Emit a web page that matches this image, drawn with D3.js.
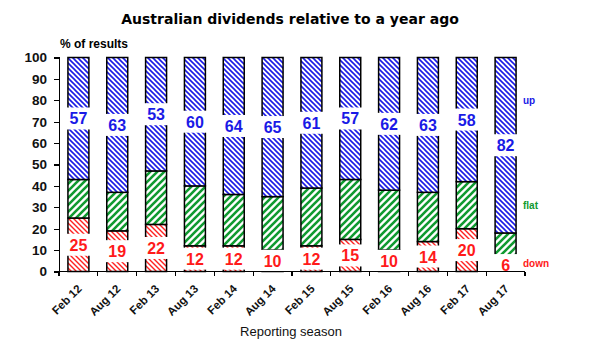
<!DOCTYPE html>
<meta charset="utf-8">
<style>
body { margin: 0; background: #fff; }
svg { font-family: "Liberation Sans", Arial, sans-serif; }
.axis path, .axis line { stroke: #000; stroke-width: 1.2px; shape-rendering: crispEdges; }
.axis text { font-weight: bold; fill: #111; }
</style>
<body>
<div id="chart"></div>
<script src="https://cdn.jsdelivr.net/npm/d3@7"></script>
<script>
var seasons = ["Feb 12","Aug 12","Feb 13","Aug 13","Feb 14","Aug 14","Feb 15","Aug 15","Feb 16","Aug 16","Feb 17","Aug 17"];
var down = [25,19,22,12,12,10,12,15,10,14,20,6];
var up = [57,63,53,60,64,65,61,57,62,63,58,82];
var flat = [18,18,25,28,24,25,27,28,28,23,22,12];
var yTicks = [0,10,20,30,40,50,60,70,80,90,100];

var width = 596, height = 362;
var svg = d3.select("#chart").append("svg")
  .attr("width", width).attr("height", height);

var x = d3.scaleBand().domain(seasons).range([59, 525]).paddingInner(0.46).paddingOuter(0.23);
var y = d3.scaleLinear().domain([0, 100]).range([271.5, 57.5]);

// hatch patterns
var defs = svg.append("defs");
function hatch(id, color, size, sw, dir) {
  var p = defs.append("pattern").attr("id", id)
    .attr("patternUnits", "userSpaceOnUse")
    .attr("width", size).attr("height", size);
  p.append("rect").attr("width", size).attr("height", size).attr("fill", "#fff");
  var d = dir > 0
    ? "M0," + size + "L" + size + ",0M-1,1L1,-1M" + (size - 1) + "," + (size + 1) + "L" + (size + 1) + "," + (size - 1)
    : "M0,0L" + size + "," + size + "M-1," + (size - 1) + "L1," + (size + 1) + "M" + (size - 1) + ",-1L" + (size + 1) + ",1";
  p.append("path").attr("d", d).attr("stroke", color).attr("stroke-width", sw);
}
hatch("hUp", "#1a1ae6", 5, 1.6, -1);
hatch("hDown", "#ff2020", 5, 1.4, -1);
hatch("hFlat", "#109a30", 7, 2.6, 1);

var rows = seasons.map(function(s, i) {
  return { season: s, down: down[i], flat: flat[i], up: up[i] };
});
var keys = ["down", "flat", "up"];
var fills = { down: "url(#hDown)", flat: "url(#hFlat)", up: "url(#hUp)" };
var layers = d3.stack().keys(keys)(rows);

// title
svg.append("text").attr("x", 290).attr("y", 24)
  .attr("text-anchor", "middle")
  .style("font-family", "'DejaVu Sans', Verdana, sans-serif")
  .style("font-weight", "bold").style("font-size", "14px")
  .text("Australian  dividends relative to a year ago");

svg.append("text").attr("x", 60).attr("y", 48)
  .style("font-weight", "bold").style("font-size", "12px")
  .text("% of results");

// bars
var g = svg.append("g");
layers.forEach(function(layer) {
  g.selectAll(".seg-" + layer.key).data(layer).enter().append("rect")
    .attr("x", function(d) { return x(d.data.season); })
    .attr("y", function(d) { return y(d[1]); })
    .attr("width", x.bandwidth())
    .attr("height", function(d) { return y(d[0]) - y(d[1]); })
    .attr("fill", fills[layer.key])
    .attr("stroke", "#000").attr("stroke-width", 1.5);
});

// value labels with white boxes
var labelKeys = { down: "#ff1a1a", up: "#1a1ae6" };
layers.filter(function(l) { return labelKeys[l.key]; }).forEach(function(layer) {
  var lg = svg.selectAll(".lab-" + layer.key).data(layer).enter().append("g");
  lg.append("rect")
    .attr("x", function(d) { return x(d.data.season) - 2; })
    .attr("y", function(d) { return y((d[0] + d[1]) / 2) - 11; })
    .attr("width", x.bandwidth() + 4)
    .attr("height", 22)
    .attr("fill", "#fff");
  lg.append("text")
    .attr("x", function(d) { return x(d.data.season) + x.bandwidth() / 2; })
    .attr("y", function(d) { return y((d[0] + d[1]) / 2) + 6; })
    .attr("text-anchor", "middle")
    .style("font-size", "16px").style("font-weight", "bold")
    .attr("fill", labelKeys[layer.key])
    .text(function(d) { return d[1] - d[0]; });
});

// axes
svg.append("g").attr("class", "axis")
  .attr("transform", "translate(59,0)")
  .call(d3.axisLeft(y).tickValues(yTicks).tickSize(5).tickPadding(7))
  .selectAll("text").style("font-size", "13.5px");

var xAxis = svg.append("g").attr("class", "axis")
  .attr("transform", "translate(0," + y(0) + ")");
xAxis.append("line").attr("x1", 59).attr("x2", 525);
var bounds = seasons.map(function(s) { return x(s) - x.step() * x.paddingInner() / 2; });
bounds.push(525);
xAxis.selectAll(".tk").data(bounds).enter().append("line")
  .attr("x1", function(d) { return d; }).attr("x2", function(d) { return d; })
  .attr("y1", 0).attr("y2", 4);
xAxis.selectAll(".lbl").data(seasons).enter().append("text")
  .attr("text-anchor", "end")
  .style("font-size", "11.5px")
  .attr("transform", function(d) {
    return "translate(" + (x(d) + x.bandwidth() / 2 + 4) + ",18) rotate(-45)";
  })
  .text(function(d) { return d; });

svg.append("text").attr("x", 291).attr("y", 336)
  .attr("text-anchor", "middle")
  .style("font-size", "13px").attr("fill", "#111")
  .text("Reporting season");

// series tags on the right
var tags = [["up", "#1a1ae6", 104], ["flat", "#109a30", 209], ["down", "#ff1a1a", 267]];
svg.selectAll(".tag").data(tags).enter().append("text")
  .attr("x", 523).attr("y", function(d) { return d[2]; })
  .style("font-size", "10px").style("font-weight", "bold")
  .attr("fill", function(d) { return d[1]; })
  .text(function(d) { return d[0]; });
</script>
</body>
